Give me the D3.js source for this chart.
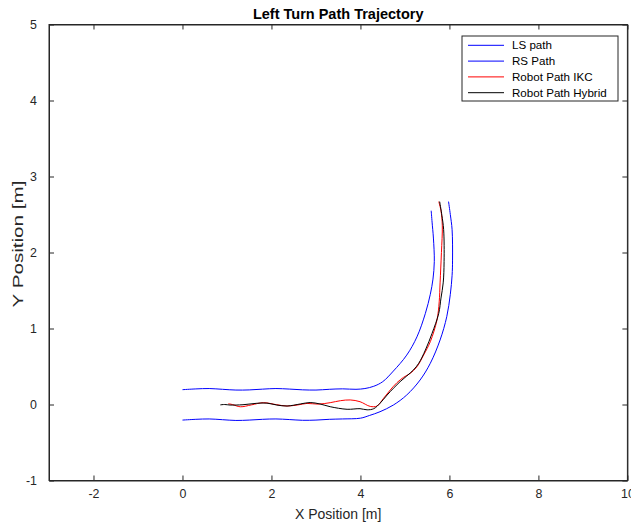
<!DOCTYPE html>
<html>
<head>
<meta charset="utf-8">
<script src="https://cdn.jsdelivr.net/npm/d3@7"></script>
<style>
  body { margin: 0; background: #fff; }
  text { font-family: "Liberation Sans", Arial, sans-serif; fill: #262626; }
</style>
</head>
<body>
<svg id="chart"></svg>
<script>
// LS path (inner side of the turn)
var lsX = [0, 0.3, 0.6, 0.9, 1.2, 1.5, 1.8, 2.1, 2.4, 2.7, 3.0, 3.3, 3.6, 3.9, 4.1, 4.3, 4.5, 4.74, 5.04, 5.27, 5.46, 5.57, 5.63, 5.66, 5.64, 5.61, 5.59]
var lsY = [0.195, 0.205, 0.21, 0.2, 0.19, 0.192, 0.202, 0.21, 0.203, 0.193, 0.19, 0.2, 0.206, 0.2, 0.21, 0.24, 0.3, 0.44, 0.65, 0.89, 1.2, 1.45, 1.65, 1.88, 2.19, 2.4, 2.55]

// RS path (outer side)
var rsX = [0, 0.3, 0.6, 0.9, 1.2, 1.5, 1.8, 2.1, 2.4, 2.7, 3.0, 3.3, 3.6, 4.0, 4.2, 4.44, 4.74, 5.04, 5.34, 5.57, 5.79, 5.94, 6.02, 6.06, 6.07, 6.06, 6.02, 5.98]
var rsY = [-0.205, -0.195, -0.19, -0.2, -0.21, -0.205, -0.195, -0.19, -0.198, -0.208, -0.205, -0.195, -0.19, -0.18, -0.145, -0.095, -0.007, 0.125, 0.322, 0.542, 0.849, 1.155, 1.45, 1.7, 1.9, 2.3, 2.5, 2.67]

// robot path, IKC controller
var ikcX = [1.03, 1.12, 1.30, 1.55, 1.82, 2.12, 2.35, 2.6, 2.8, 3.05, 3.32, 3.55, 3.77, 3.99, 4.22, 4.37, 4.52, 4.67, 4.82, 4.97, 5.12, 5.27, 5.42, 5.57, 5.72, 5.77, 5.79, 5.82, 5.84, 5.81, 5.76]
var ikcY = [0.01, 0.0, -0.03, -0.005, 0.024, -0.003, -0.02, -0.005, 0.014, 0.005, 0.024, 0.05, 0.06, 0.037, -0.025, -0.02, 0.082, 0.191, 0.287, 0.358, 0.41, 0.497, 0.651, 0.826, 1.112, 1.35, 1.6, 2.0, 2.35, 2.55, 2.67]

// robot path, hybrid controller
var hybX = [0.85, 0.95, 1.07, 1.36, 1.67, 1.90, 2.12, 2.35, 2.65, 2.87, 3.09, 3.32, 3.70, 3.99, 4.15, 4.3, 4.44, 4.60, 4.74, 4.89, 5.04, 5.19, 5.31, 5.46, 5.61, 5.76, 5.81, 5.86, 5.88, 5.87, 5.83, 5.78]
var hybY = [-0.005, 0.0, -0.007, -0.003, 0.016, 0.018, -0.007, -0.02, 0.007, 0.026, 0.007, -0.029, -0.063, -0.055, -0.07, -0.055, 0.016, 0.125, 0.213, 0.3, 0.375, 0.454, 0.542, 0.717, 0.937, 1.2, 1.4, 1.6, 1.88, 2.3, 2.49, 2.67]

var xTicks = [-2, 0, 2, 4, 6, 8, 10]
var yTicks = [-1, 0, 1, 2, 3, 4, 5]
var seriesNames = ["LS path", "RS Path", "Robot Path IKC", "Robot Path Hybrid"]
var seriesColors = ["#0000ff", "#0000ff", "#ff0000", "#000000"]

var dimensions = {
    width: 631,
    height: 525,
    margin: {
        top: 24.5,
        bottom: 44.5,
        right: 3.6,
        left: 49
    }
}
dimensions.boundedWidth = dimensions.width - dimensions.margin.left - dimensions.margin.right
dimensions.boundedHeight = dimensions.height - dimensions.margin.top - dimensions.margin.bottom

var svg = d3.select("#chart")
    .attr("width", dimensions.width)
    .attr("height", dimensions.height)

var bounds = svg.append("g")
    .attr("transform", "translate(" + dimensions.margin.left + "," + dimensions.margin.top + ")")

var xScale = d3.scaleLinear()
    .domain([-3, 10])
    .range([0, dimensions.boundedWidth])

var yScale = d3.scaleLinear()
    .domain([-1, 5])
    .range([dimensions.boundedHeight, 0])

// white plot box
bounds.append("rect")
    .attr("width", dimensions.boundedWidth)
    .attr("height", dimensions.boundedHeight)
    .attr("fill", "#fff")

// the lines, clipped to the axes
svg.append("clipPath").attr("id", "clip")
    .append("rect")
    .attr("width", dimensions.boundedWidth)
    .attr("height", dimensions.boundedHeight)

var line = d3.line()
    .x(d => xScale(d[0]))
    .y(d => yScale(d[1]))
    .curve(d3.curveCatmullRom.alpha(0.5))

var allSeries = [
    d3.zip(lsX, lsY),
    d3.zip(rsX, rsY),
    d3.zip(ikcX, ikcY),
    d3.zip(hybX, hybY)
]

bounds.append("g")
    .attr("clip-path", "url(#clip)")
    .selectAll("path")
    .data(allSeries)
    .enter()
    .append("path")
    .attr("d", line)
    .attr("fill", "none")
    .attr("stroke", (d, i) => seriesColors[i])
    .attr("stroke-width", 1)

// axes, MATLAB style box with inward ticks
var tickLen = 5
var axisColor = "#262626"
var plainNum = d => String(d)   // keep the hyphen minus like the original

bounds.append("g")
    .attr("transform", "translate(0," + dimensions.boundedHeight + ")")
    .call(d3.axisBottom(xScale).tickValues(xTicks).tickFormat(plainNum).tickSizeInner(-tickLen).tickSizeOuter(0).tickPadding(9))
bounds.append("g")
    .call(d3.axisTop(xScale).tickValues(xTicks).tickSizeInner(-tickLen).tickSizeOuter(0).tickFormat(""))
bounds.append("g")
    .call(d3.axisLeft(yScale).tickValues(yTicks).tickFormat(plainNum).tickSizeInner(-tickLen).tickSizeOuter(0).tickPadding(12))
bounds.append("g")
    .attr("transform", "translate(" + dimensions.boundedWidth + ",0)")
    .call(d3.axisRight(yScale).tickValues(yTicks).tickSizeInner(-tickLen).tickSizeOuter(0).tickFormat(""))

bounds.selectAll(".domain, .tick line")
    .attr("stroke", axisColor)
    .attr("stroke-width", 1)

bounds.selectAll(".tick text")
    .attr("fill", axisColor)
    .style("font-family", "'Liberation Sans', Arial, sans-serif")
    .style("font-size", "12.4px")

// box outline on top
bounds.append("rect")
    .attr("width", dimensions.boundedWidth)
    .attr("height", dimensions.boundedHeight)
    .attr("fill", "none")
    .attr("stroke", axisColor)
    .attr("stroke-width", 1)

// title and labels
svg.append("text")
    .attr("x", dimensions.margin.left + dimensions.boundedWidth / 2)
    .attr("y", 19)
    .style("text-anchor", "middle")
    .style("font-weight", "bold")
    .style("font-size", "14.5px")
    .style("fill", "#000")
    .text("Left Turn Path Trajectory")

svg.append("text")
    .attr("x", dimensions.margin.left + dimensions.boundedWidth / 2)
    .attr("y", 519)
    .style("text-anchor", "middle")
    .style("font-size", "14px")
    .text("X Position [m]")

svg.append("text")
    .attr("transform", "rotate(-90)")
    .attr("x", -244)
    .attr("y", 23)
    .attr("textLength", 127)
    .attr("lengthAdjust", "spacingAndGlyphs")
    .style("text-anchor", "middle")
    .style("font-size", "14px")
    .text("Y Position [m]")

// legend
var legend = svg.append("g")
    .attr("transform", "translate(462,36)")

legend.append("rect")
    .attr("width", 156)
    .attr("height", 65)
    .attr("fill", "#fff")
    .attr("stroke", axisColor)
    .attr("stroke-width", 1)

var rows = legend.selectAll("g.row")
    .data(seriesNames)
    .enter()
    .append("g")
    .attr("class", "row")
    .attr("transform", (d, i) => "translate(0," + (9.3 + i * 15.8) + ")")

rows.append("line")
    .attr("x1", 6)
    .attr("x2", 42)
    .attr("stroke", d => seriesColors[seriesNames.indexOf(d)])
    .attr("stroke-width", 1)

rows.append("text")
    .attr("x", 50)
    .attr("dy", "0.35em")
    .style("font-size", "11.6px")
    .style("fill", "#000")
    .text(d => d)
</script>
</body>
</html>
